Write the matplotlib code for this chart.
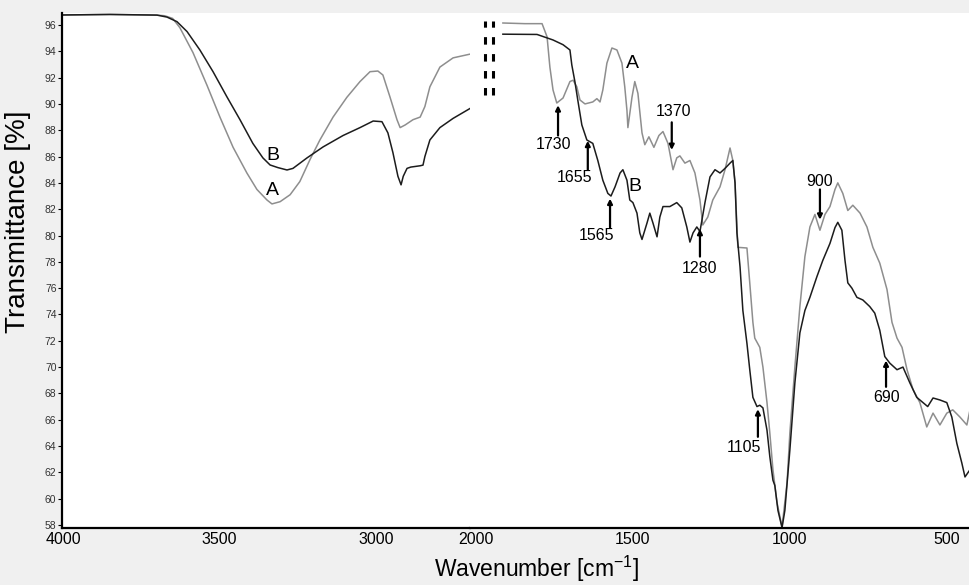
import matplotlib.pyplot as plt

plt.rcParams['font.family'] = ['Liberation Sans', 'DejaVu Sans']
plt.rcParams['mathtext.default'] = 'regular'

# ---- spectrum A (grey), 4000-2700 cm-1
wn_hi_a = [4000, 3850, 3700, 3675, 3650, 3627, 3585, 3540, 3499, 3457, 3413, 3381, 3349,
           3333, 3307, 3275, 3244, 3212, 3180, 3138, 3094, 3052, 3020, 2995, 2979, 2956,
           2934, 2924, 2908, 2883, 2860, 2845, 2829, 2797, 2755, 2698]
t_hi_a = [96.76, 96.8, 96.75, 96.7, 96.5, 95.8, 93.9, 91.4, 89.0, 86.7, 84.75, 83.5, 82.7,
          82.4, 82.57, 83.1, 84.1, 85.75, 87.26, 89.0, 90.5, 91.7, 92.45, 92.5, 92.2, 90.5,
          88.8, 88.2, 88.4, 88.8, 89.0, 89.8, 91.3, 92.8, 93.5, 93.8]

# ---- spectrum B (black), 4000-2700 cm-1
wn_hi_b = [4000, 3850, 3700, 3668, 3636, 3604, 3563, 3521, 3477, 3435, 3394, 3362, 3339,
           3314, 3285, 3266, 3221, 3170, 3106, 3052, 3010, 2982, 2963, 2947, 2931, 2921,
           2914, 2902, 2890, 2860, 2851, 2845, 2829, 2797, 2755, 2694]
t_hi_b = [96.76, 96.8, 96.75, 96.6, 96.25, 95.5, 94.1, 92.45, 90.55, 88.8, 87.0, 85.9, 85.36,
          85.16, 84.98, 85.1, 85.9, 86.73, 87.6, 88.2, 88.7, 88.65, 87.8, 86.3, 84.5, 83.85,
          84.5, 85.1, 85.2, 85.3, 85.35, 86.0, 87.26, 88.2, 88.9, 89.75]

# ---- spectrum A (grey), 1915-424 cm-1
wn_lo_a = [1915, 1845, 1790, 1774, 1765, 1755, 1743, 1723, 1701, 1691, 1679, 1669, 1653,
           1628, 1615, 1605, 1596, 1583, 1567, 1551, 1535, 1526, 1519, 1516, 1503, 1494,
           1484, 1471, 1462, 1449, 1433, 1417, 1404, 1388, 1372, 1360, 1350, 1334, 1318,
           1302, 1286, 1277, 1261, 1245, 1222, 1206, 1190, 1181, 1174, 1165, 1136, 1127,
           1117, 1111, 1095, 1085, 1072, 1063, 1053, 1040, 1024, 1008, 999, 983, 967, 951,
           935, 919, 903, 887, 871, 855, 846, 830, 814, 798, 775, 753, 734, 712, 689, 673,
           657, 641, 625, 606, 584, 562, 542, 520, 498, 479, 456, 434, 424]
t_lo_a = [96.15, 96.1, 96.1, 95.1, 92.8, 91.06, 90.07, 90.45, 91.7, 91.8, 91.3, 90.3, 90.0,
          90.15, 90.4, 90.15, 91.06, 93.1, 94.25, 94.1, 93.1, 91.3, 89.5, 88.2, 90.5, 91.7,
          90.8, 87.8, 86.9, 87.5, 86.7, 87.6, 87.9, 87.0, 85.0, 85.9, 86.05, 85.5, 85.7,
          84.75, 82.7, 80.8, 81.4, 82.7, 83.7, 85.0, 86.65, 85.7, 84.0, 79.1, 79.05, 76.4,
          73.4, 72.2, 71.5, 70.0, 67.3, 65.0, 62.2, 59.7, 57.85, 61.2, 65.0, 70.0, 74.6, 78.4,
          80.65, 81.6, 80.4, 81.6, 82.2, 83.5, 84.0, 83.2, 81.9, 82.3, 81.7, 80.65, 79.1, 77.9,
          75.9, 73.4, 72.2, 71.5, 69.8, 68.3, 67.3, 65.45, 66.5, 65.6, 66.5, 66.75, 66.2, 65.6,
          66.75]

# ---- spectrum B (black), 1915-424 cm-1
wn_lo_b = [1915, 1806, 1755, 1723, 1701, 1695, 1685, 1676, 1663, 1647, 1628, 1612, 1596,
           1580, 1570, 1557, 1541, 1532, 1519, 1510, 1500, 1487, 1478, 1471, 1455, 1446,
           1436, 1423, 1414, 1404, 1382, 1360, 1344, 1328, 1318, 1308, 1296, 1286, 1270,
           1254, 1238, 1222, 1206, 1190, 1181, 1174, 1168, 1158, 1149, 1136, 1127, 1117,
           1104, 1095, 1085, 1072, 1063, 1053, 1047, 1037, 1024, 1015, 999, 983, 967, 951,
           935, 913, 894, 871, 855, 846, 833, 823, 814, 801, 785, 766, 744, 728, 712, 696,
           680, 657, 638, 616, 594, 574, 559, 542, 520, 498, 482, 466, 450, 440, 424]
t_lo_b = [95.3, 95.28, 94.86, 94.5, 94.1, 92.96, 91.67, 90.3, 88.4, 87.26, 87.0, 85.7, 84.2,
          83.2, 83.0, 83.7, 84.75, 85.0, 84.2, 82.7, 82.5, 81.7, 80.2, 79.7, 80.95, 81.7,
          80.95, 79.9, 81.4, 82.2, 82.2, 82.5, 82.1, 80.65, 79.5, 80.2, 80.65, 80.3, 82.5,
          84.45, 85.0, 84.75, 85.1, 85.5, 85.7, 84.0, 80.2, 77.6, 74.3, 71.8, 69.8, 67.7,
          67.0, 67.1, 66.9, 65.2, 63.2, 61.4, 61.0, 59.1, 57.8, 59.1, 63.7, 68.8, 72.6, 74.3,
          75.3, 76.85, 78.1, 79.4, 80.6, 81.0, 80.4, 78.1, 76.4, 76.0, 75.3, 75.1, 74.6, 74.1,
          72.8, 70.8, 70.3, 69.8, 70.0, 68.8, 67.7, 67.3, 67.0, 67.65, 67.5, 67.3, 66.2, 64.2,
          62.7, 61.65, 62.2]

# band labels: text, text (wn, T), arrow wn, arrow tail T, arrow head T
bands = [
    ('1730', 1755, 86.9, 1739, 87.6, 89.9),
    ('1655', 1685, 84.4, 1644, 85.0, 87.2),
    ('1565', 1615, 80.0, 1573, 80.6, 82.8),
    ('1370', 1372, 89.4, 1376, 88.6, 86.5),
    ('1280', 1286, 77.5, 1286, 78.4, 80.5),
    ('1105', 1146, 63.85, 1101, 64.7, 66.8),
    ('900', 903, 84.1, 903, 83.5, 81.2),
    ('690', 689, 67.65, 692, 68.5, 70.5),
]

grey = '#8e8e8e'
black = '#1c1c1c'

fig = plt.figure(figsize=(9.7, 5.85), dpi=100, facecolor='#f0f0f0')
ax1 = fig.add_axes([62 / 970, 57 / 585, 408 / 970, 515 / 585])
ax2 = fig.add_axes([470 / 970, 57 / 585, 500 / 970, 515 / 585])

ax1.plot(wn_hi_a, t_hi_a, color=grey, lw=1.1)
ax1.plot(wn_hi_b, t_hi_b, color=black, lw=1.1)
ax2.plot(wn_lo_a, t_lo_a, color=grey, lw=1.1)
ax2.plot(wn_lo_b, t_lo_b, color=black, lw=1.1)

ax1.set_xlim(4003, 2701)
ax2.set_xlim(2020, 424)
for ax in (ax1, ax2):
    ax.set_ylim(57.77, 96.91)
    ax.spines['top'].set_visible(False)
    ax.spines['right'].set_visible(False)
    ax.spines['bottom'].set_linewidth(1.6)
    ax.tick_params(axis='x', length=0, pad=3, labelsize=11.5)
ax2.spines['left'].set_visible(False)
ax2.set_yticks([])
ax1.spines['left'].set_linewidth(1.6)

ax1.set_xticks([4000, 3500, 3000])
ax2.set_xticks([2000, 1500, 1000, 500])
ax1.set_yticks(range(58, 97, 2))
ax1.tick_params(axis='y', length=3, width=0.8, pad=1, labelsize=7.5, labelcolor='#333333')

# curve letters
ax1.text(3330, 86.1, 'B', ha='center', va='center', fontsize=14)
ax1.text(3333, 83.45, 'A', ha='center', va='center', fontsize=14)
ax2.text(1503, 93.1, 'A', ha='center', va='center', fontsize=14)
ax2.text(1494, 83.7, 'B', ha='center', va='center', fontsize=14)

for label, tx, ty, axw, y0, y1 in bands:
    ax2.text(tx, ty, label, ha='center', va='center', fontsize=11.5)
    ax2.annotate('', xy=(axw, y1), xytext=(axw, y0),
                 arrowprops=dict(arrowstyle='-|>', color='black', lw=1.6,
                                 mutation_scale=7, shrinkA=0, shrinkB=0))

# axis break marks
ax2.vlines([1972, 1947], 90.7, 96.3, colors='black', lw=2.2,
           linestyles=[(0, (2.45, 3.1))])

fig.text(537 / 970, 1 - 577 / 585, 'Wavenumber [cm$^{-1}$]', ha='center', va='baseline',
         fontsize=16.5)
fig.text(18 / 970, 1 - 222 / 585, 'Transmittance [%]', ha='center', va='center',
         rotation=90, fontsize=20)

fig.savefig('out.png', dpi=100, facecolor=fig.get_facecolor())
